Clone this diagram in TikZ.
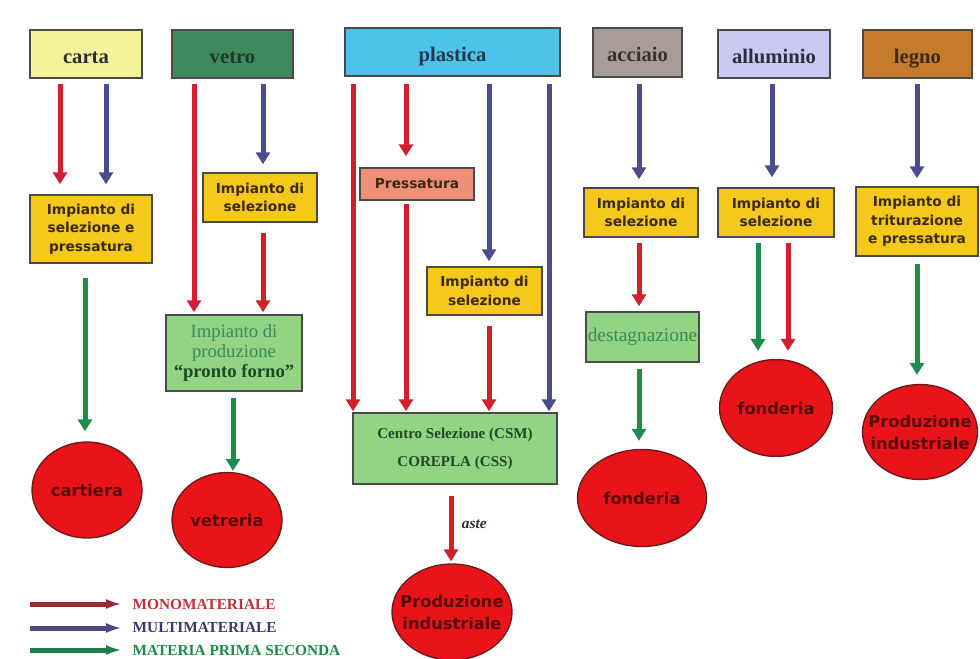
\documentclass[tikz,border=0pt]{standalone}
\usepackage{fontspec}
\setmainfont{Liberation Serif}
\newfontfamily\vsans{DejaVu Sans}
\usetikzlibrary{arrows.meta,shapes.geometric}
\definecolor{arred}{HTML}{D0202E}
\definecolor{arblue}{HTML}{4B4B8F}
\definecolor{argreen}{HTML}{1D8C4E}
\definecolor{legarred}{HTML}{9A2A32}
\definecolor{legarblue}{HTML}{4A4A80}
\definecolor{legargreen}{HTML}{1E7E46}
\definecolor{boxline}{HTML}{4A4A4A}
\definecolor{cartafill}{HTML}{F6F29C}
\definecolor{vetrofill}{HTML}{3F8A5C}
\definecolor{plastfill}{HTML}{4EC3EA}
\definecolor{acciafill}{HTML}{A79D96}
\definecolor{allufill}{HTML}{C9C9F2}
\definecolor{legnofill}{HTML}{C67A2C}
\definecolor{impyellow}{HTML}{F5C81C}
\definecolor{pressfill}{HTML}{EE8F78}
\definecolor{lgreen}{HTML}{93D384}
\definecolor{ovalred}{HTML}{E8141A}
\definecolor{ovalline}{HTML}{6A1A1A}
\definecolor{ovaltxt}{HTML}{5A0808}
\definecolor{titletxt}{HTML}{2D2D3A}
\definecolor{imptxt}{HTML}{3A2A10}
\definecolor{sergreen}{HTML}{3A8A5A}
\definecolor{dkgreen}{HTML}{1E4A28}
\definecolor{legred}{HTML}{C0303A}
\definecolor{legblue}{HTML}{3A3A6A}
\definecolor{leggreen}{HTML}{1E8A4A}
\definecolor{vetrotxt}{HTML}{1F3A2A}
\definecolor{plasttxt}{HTML}{1F3A4A}
\definecolor{acciatxt}{HTML}{3A3030}
\definecolor{legnotxt}{HTML}{3A2A1A}
\begin{document}
\begin{tikzpicture}[x=0.75pt,y=-0.75pt,
 box/.style={draw=boxline, line width=1.1pt, inner sep=0pt, align=center},
 title/.style={box, font=\bfseries\fontsize{15.5}{18}\selectfont, text=titletxt, minimum height=36pt, text height=14pt, text depth=0pt},
 imp/.style={box, fill=impyellow, font=\vsans\bfseries\fontsize{10.3}{14}\selectfont, text=imptxt},
 grbox/.style={box, fill=lgreen},
 oval/.style={ellipse, draw=ovalline, line width=1pt, fill=ovalred, inner sep=0pt},
 ovaltext/.style={font=\vsans\bfseries\fontsize{12.2}{16.5}\selectfont, text=ovaltxt, align=center},
 ar/.style={line width=3.75pt, -{Triangle[width=10.5pt,length=9pt]}, shorten <=3.75pt, shorten >=6pt},
 legar/.style={line width=3.75pt, -{Latex[width=7.5pt,length=12pt]}},
 legtext/.style={anchor=west, font=\bfseries\fontsize{11.5}{13}\selectfont},
]
\useasboundingbox[fill=white] (0,0) rectangle (980,659);

% titles
\node[title, fill=cartafill, minimum width=84pt] (carta) at (86,54) {carta};
\node[title, fill=vetrofill, minimum width=90.75pt, text=vetrotxt] (vetro) at (232.5,54) {vetro};
\node[title, fill=plastfill, minimum width=161.25pt, text=plasttxt] (plastica) at (452.5,52) {plastica};
\node[title, fill=acciafill, minimum width=66.75pt, minimum height=36.75pt, text=acciatxt] (acciaio) at (637.5,52.5) {acciaio};
\node[title, fill=allufill, minimum width=84pt] (alluminio) at (774,54) {alluminio};
\node[title, fill=legnofill, minimum width=81.75pt, text=legnotxt] (legno) at (917.5,54) {legno};

% process boxes
\node[imp, minimum width=91.5pt, minimum height=51pt] (imp1) at (91,229) {Impianto di\\selezione e\\pressatura};
\node[imp, minimum width=85.5pt, minimum height=36.75pt] (imp2) at (260,197.5) {Impianto di\\selezione};
\node[grbox, minimum width=102pt, minimum height=57pt, font=\fontsize{14}{15}\selectfont, text=sergreen] (prod) at (234,353) {Impianto di\\produzione\\\textcolor{dkgreen}{\bfseries “pronto forno”}};
\node[box, fill=pressfill, minimum width=85.5pt, minimum height=24pt, font=\vsans\bfseries\fontsize{10.3}{12}\selectfont, text=imptxt] (press) at (417,184) {Pressatura};
\node[imp, minimum width=86.25pt, minimum height=36pt] (imp3) at (484.5,291) {Impianto di\\selezione};
\node[grbox, minimum width=153pt, minimum height=53.25pt, font=\bfseries\fontsize{11.3}{21}\selectfont, text=dkgreen] (csm) at (455,448.5) {Centro Selezione (CSM)\\COREPLA (CSS)};
\node[imp, minimum width=85.5pt, minimum height=36.75pt] (imp4) at (641,212.5) {Impianto di\\selezione};
\node[grbox, minimum width=84.75pt, minimum height=37.5pt, font=\fontsize{14.5}{16}\selectfont, text=sergreen] (dest) at (642.5,337) {destagnazione};
\node[imp, minimum width=87pt, minimum height=36.75pt] (imp5) at (776,212.5) {Impianto di\\selezione};
\node[imp, minimum width=91.5pt, minimum height=51.75pt] (imp6) at (917,221.5) {Impianto di\\triturazione\\e pressatura};

% ovals
\node[oval, minimum width=82.5pt, minimum height=72pt] (cartiera) at (87,490) {};
\node[ovaltext] (tcartiera) at (cartiera.center) {cartiera};
\node[oval, minimum width=82.5pt, minimum height=71.25pt] (vetreria) at (227,520) {};
\node[ovaltext] (tvetreria) at (vetreria.center) {vetreria};
\node[oval, minimum width=90pt, minimum height=72pt] (prodind1) at (452,612) {};
\node[ovaltext] (tprodind1) at (prodind1.center) {Produzione\\industriale};
\node[oval, minimum width=96.75pt, minimum height=72.75pt] (fond1) at (642,498) {};
\node[ovaltext] (tfond1) at (fond1.center) {fonderia};
\node[oval, minimum width=84.75pt, minimum height=72.75pt] (fond2) at (776,408) {};
\node[ovaltext] (tfond2) at (fond2.center) {fonderia};
\node[oval, minimum width=86.25pt, minimum height=71.25pt] (prodind2) at (920,432) {};
\node[ovaltext] (tprodind2) at (prodind2.center) {Produzione\\industriale};

% column x coordinates
\coordinate (xa) at (60,0);
\coordinate (xb) at (106,0);
\coordinate (xc) at (85,0);
\coordinate (xd) at (194,0);
\coordinate (xe) at (263,0);
\coordinate (xf) at (233,0);
\coordinate (xg) at (353,0);
\coordinate (xh) at (406,0);
\coordinate (xi) at (489,0);
\coordinate (xj) at (549,0);
\coordinate (xk) at (451,0);
\coordinate (xl) at (639,0);
\coordinate (xm) at (772,0);
\coordinate (xn) at (758,0);
\coordinate (xo) at (788,0);
\coordinate (xp) at (917,0);

% carta
\draw[ar, arred, shorten >=7.5pt] (carta.south -| xa) -- (imp1.north -| xa);
\draw[ar, arblue, shorten >=7.5pt] (carta.south -| xb) -- (imp1.north -| xb);
\draw[ar, argreen, shorten <=10.5pt, shorten >=7.5pt] (imp1.south -| xc) -- (cartiera.north -| xc);
% vetro
\draw[ar, arred, shorten >=1.5pt] (vetro.south -| xd) -- (prod.north -| xd);
\draw[ar, arblue] (vetro.south -| xe) -- (imp2.north -| xe);
\draw[ar, arred, shorten <=7.5pt, shorten >=1.5pt] (imp2.south -| xe) -- (prod.north -| xe);
\draw[ar, argreen, shorten <=4.5pt, shorten >=0.75pt] (prod.south -| xf) -- (vetreria.north -| xf);
% plastica
\draw[ar, arred, shorten <=5.25pt, shorten >=0.75pt] (plastica.south -| xg) -- (csm.north -| xg);
\draw[ar, arred, shorten <=5.25pt, shorten >=8.25pt] (plastica.south -| xh) -- (press.north -| xh);
\draw[ar, arred, shorten <=2.25pt, shorten >=0.75pt] (press.south -| xh) -- (csm.north -| xh);
\draw[ar, arblue, shorten <=5.25pt, shorten >=3.75pt] (plastica.south -| xi) -- (imp3.north -| xi);
\draw[ar, arred, shorten <=7.5pt, shorten >=0.75pt] (imp3.south -| xi) -- (csm.north -| xi);
\draw[ar, arblue, shorten <=5.25pt, shorten >=0.75pt] (plastica.south -| xj) -- (csm.north -| xj);
\draw[ar, arred, shorten <=8.25pt, shorten >=1.5pt] (csm.south -| xk) -- node[right=3pt, font=\bfseries\itshape\fontsize{11.5}{12}\selectfont, text=titletxt] (aste) {aste} (prodind1.north -| xk);
% acciaio
\draw[ar, arblue, shorten <=4.5pt] (acciaio.south -| xl) -- (imp4.north -| xl);
\draw[ar, arred, shorten >=3.75pt] (imp4.south -| xl) -- (dest.north -| xl);
\draw[ar, argreen, shorten <=4.5pt] (dest.south -| xl) -- (fond1.north -| xl);
% alluminio
\draw[ar, arblue, shorten >=7.5pt] (alluminio.south -| xm) -- (imp5.north -| xm);
\draw[ar, argreen] (imp5.south -| xn) -- (fond2.north -| xn);
\draw[ar, arred] (imp5.south -| xo) -- (fond2.north -| xo);
% legno
\draw[ar, arblue] (legno.south -| xp) -- (imp6.north -| xp);
\draw[ar, argreen, shorten <=5.25pt, shorten >=6.75pt] (imp6.south -| xp) -- (prodind2.north -| xp);

% legend
\coordinate (l1a) at (30,604); \coordinate (l1b) at (122,604);
\coordinate (l2a) at (30,628); \coordinate (l2b) at (122,628);
\coordinate (l3a) at (30,650); \coordinate (l3b) at (122,650);
\draw[legar, legarred] (l1a) -- (l1b);
\draw[legar, legarblue] (l2a) -- (l2b);
\draw[legar, legargreen] (l3a) -- (l3b);
\node[legtext, text=legred] (lt1) at (128,604) {MONOMATERIALE};
\node[legtext, text=legblue] (lt2) at (128,628) {MULTIMATERIALE};
\node[legtext, text=leggreen] (lt3) at (128,650) {MATERIA PRIMA SECONDA};
\end{tikzpicture}
\end{document}
